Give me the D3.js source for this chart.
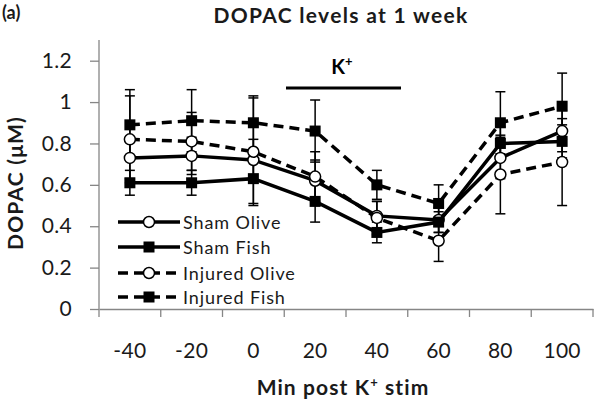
<!DOCTYPE html>
<html><head><meta charset="utf-8">
<script src="https://cdn.jsdelivr.net/npm/d3@7"></script>
<style>
html,body{margin:0;padding:0;background:#fff;}
svg{display:block;font-family:Lato,"Open Sans",sans-serif;}
</style></head>
<body><svg id="c" width="600" height="405"></svg>
<script>
const categories = ["-40","-20","0","20","40","60","80","100"];
const yTicks = [0,0.2,0.4,0.6,0.8,1.0,1.2];
const seriesNames = ["Sham Olive","Sham Fish","Injured Olive","Injured Fish"];
const shamOlive   = [0.73,0.74,0.72,0.62,0.45,0.43,0.73,0.86];
const shamFish    = [0.61,0.61,0.63,0.52,0.37,0.42,0.80,0.81];
const injOlive    = [0.82,0.81,0.76,0.64,0.44,0.33,0.65,0.71];
const injFish     = [0.89,0.91,0.90,0.86,0.60,0.51,0.90,0.98];
const errShamOlive = [0.10,0.09,0.10,0.10,0.07,0.06,0.10,0.10];
const errShamFish  = [0.06,0.06,0.12,0.10,0.05,0.05,0.08,0.08];
const errInjOlive  = [0.21,0.14,0.26,0.12,0.08,0.10,0.19,0.21];
const errInjFish   = [0.17,0.15,0.13,0.15,0.07,0.09,0.15,0.16];

const values = [shamOlive, shamFish, injOlive, injFish];
const errs = [errShamOlive, errShamFish, errInjOlive, errInjFish];
const dashed = [false,false,true,true];
const filled = [false,true,false,true];

const svg = d3.select("#c");
const x = d3.scaleBand().domain(categories).range([99,593]).padding(0);
const y = d3.scaleLinear().domain([0,1.3]).range([309,40]);
const axisCol = "#868686";
const txtCol = "#1a1a1a";

// axes
const gy = svg.append("g").attr("transform","translate(99,0)")
  .call(d3.axisLeft(y).tickValues(yTicks).tickSize(9).tickPadding(18)
    .tickFormat(d => String(+d.toFixed(1))));
gy.select(".domain").attr("stroke",axisCol).attr("stroke-width",1.3).attr("d","M0,309V40");
gy.selectAll(".tick line").attr("stroke",axisCol).attr("stroke-width",1.3);
gy.selectAll(".tick text").attr("font-size",21).attr("fill",txtCol).attr("font-family","Lato").attr("letter-spacing",0.3);

const gx = svg.append("g").attr("transform","translate(0,309)")
  .call(d3.axisBottom(x).tickSize(0).tickPadding(34));
gx.select(".domain").attr("stroke",axisCol).attr("stroke-width",1.3);
gx.selectAll(".tick text").attr("font-size",21).attr("fill",txtCol).attr("font-family","Lato").attr("letter-spacing",0.3);
const bounds = categories.map(c => x(c)).concat([x.range()[1]]);
gx.selectAll(".bt").data(bounds).enter().append("line")
  .attr("x1",d=>d).attr("x2",d=>d).attr("y1",0).attr("y2",8)
  .attr("stroke",axisCol).attr("stroke-width",1.3);

const cx = c => x(c) + x.bandwidth()/2;

// error bars
values.forEach((vals,si) => {
  const g = svg.append("g");
  vals.forEach((v,i) => {
    const e = errs[si][i], px = cx(categories[i]);
    g.append("line").attr("x1",px).attr("x2",px).attr("y1",y(v-e)).attr("y2",y(v+e))
      .attr("stroke","#000").attr("stroke-width",1.5);
    [v-e, v+e].forEach(t => g.append("line").attr("x1",px-5).attr("x2",px+5)
      .attr("y1",y(t)).attr("y2",y(t)).attr("stroke","#000").attr("stroke-width",1.5));
  });
});

// lines and markers
const line = d3.line().x((d,i)=>cx(categories[i])).y(d=>y(d));
function marker(g, px, py, f){
  if (f) g.append("rect").attr("x",px-5.5).attr("y",py-5.5).attr("width",11).attr("height",11).attr("fill","#000");
  else g.append("circle").attr("cx",px).attr("cy",py).attr("r",5.5).attr("fill","#fff").attr("stroke","#000").attr("stroke-width",1.5);
}
values.forEach((vals,si) => {
  const g = svg.append("g");
  g.append("path").attr("d",line(vals)).attr("fill","none").attr("stroke","#000")
    .attr("stroke-width",3.5).attr("stroke-dasharray",dashed[si]?"10,6":null);
  vals.forEach((v,i)=>marker(g, cx(categories[i]), y(v), filled[si]));
});

// legend
const legRows = [222,247,273,297];
seriesNames.forEach((n,i) => {
  const g = svg.append("g");
  g.append("line").attr("x1",118).attr("x2",180).attr("y1",legRows[i]).attr("y2",legRows[i])
    .attr("stroke","#000").attr("stroke-width",3.5).attr("stroke-dasharray",dashed[i]?"10,6":null);
  marker(g,149,legRows[i],filled[i]);
  g.append("text").attr("x",183).attr("y",legRows[i]+6.5).attr("font-size",18)
    .attr("letter-spacing",0.9).attr("fill",txtCol).text(n);
});

// K+ annotation
svg.append("line").attr("x1",286).attr("x2",401).attr("y1",88).attr("y2",88).attr("stroke","#000").attr("stroke-width",3);
const kt = svg.append("text").attr("x",342).attr("y",74).attr("text-anchor","middle").attr("font-size",20).attr("font-weight","bold");
kt.append("tspan").text("K");
kt.append("tspan").attr("font-size",13).attr("dy",-8).text("+");

// titles
svg.append("text").attr("x",341).attr("y",23).attr("text-anchor","middle").attr("font-size",21)
  .attr("font-weight","bold").attr("letter-spacing",1.3).attr("fill",txtCol).text("DOPAC levels at 1 week");
svg.append("text").attr("x",2).attr("y",19).attr("font-size",18).attr("font-weight","bold").attr("fill",txtCol).text("(a)");
const xt = svg.append("text").attr("x",343).attr("y",395).attr("text-anchor","middle").attr("font-size",21)
  .attr("font-weight","bold").attr("letter-spacing",1.1).attr("fill",txtCol);
xt.append("tspan").text("Min post K");
xt.append("tspan").attr("font-size",13).attr("dy",-8).text("+");
xt.append("tspan").attr("dy",8).text(" stim");
svg.append("text").attr("transform","translate(23,183) rotate(-90)").attr("text-anchor","middle")
  .attr("font-size",21).attr("font-weight","bold").attr("letter-spacing",1.2).attr("fill",txtCol).text("DOPAC (μM)");
</script></body></html>
